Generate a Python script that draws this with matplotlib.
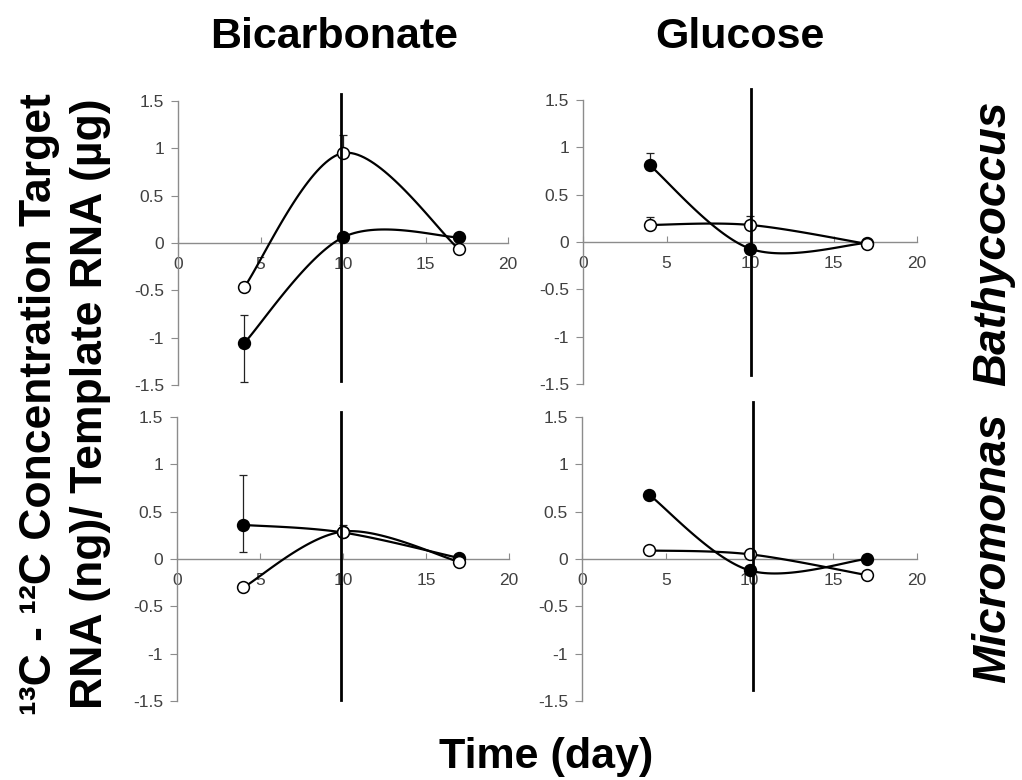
import numpy as np
import matplotlib
matplotlib.use('Agg')
from matplotlib import pyplot as plt

plt.rcParams['font.family'] = ['Liberation Sans', 'DejaVu Sans']

days = [4, 10, 17]
xticks = [0, 5, 10, 15, 20]
yticks = [-1.5, -1, -0.5, 0, 0.5, 1, 1.5]

# Bathycoccus, bicarbonate
bath_bic_filled = [-1.06, 0.06, 0.06]
bath_bic_filled_up = [0.30, 0, 0]
bath_bic_filled_lo = [0.41, 0, 0]
bath_bic_open = [-0.47, 0.95, -0.06]
bath_bic_open_up = [0, 0.19, 0]

# Bathycoccus, glucose
bath_glu_filled = [0.81, -0.07, -0.01]
bath_glu_filled_up = [0.13, 0, 0]
bath_glu_open = [0.18, 0.18, -0.02]
bath_glu_open_up = [0.08, 0.09, 0]

# Micromonas, bicarbonate
micro_bic_filled = [0.36, 0.28, 0.01]
micro_bic_filled_up = [0.53, 0, 0]
micro_bic_filled_lo = [0.29, 0, 0]
micro_bic_open = [-0.30, 0.29, -0.03]
micro_bic_open_up = [0, 0.07, 0]

# Micromonas, glucose
micro_glu_filled = [0.68, -0.12, 0.0]
micro_glu_open = [0.09, 0.05, -0.17]

# hand drawn vertical marker on each panel: day, bottom, top
markers = [(9.88, -1.46, 1.57), (10.06, -1.41, 1.62),
           (9.85, -1.49, 1.55), (10.2, -1.38, 1.66)]


def smooth(x, y, n=40):
    # excel style smoothed line (bezier through the points)
    p = np.column_stack([x, y]).astype(float)
    out = [p[0]]
    t = np.linspace(0, 1, n)[1:, None]
    for i in range(len(p) - 1):
        p0 = p[i - 1] if i > 0 else p[i]
        p3 = p[i + 2] if i + 2 < len(p) else p[i + 1]
        c1 = p[i] + (p[i + 1] - p0) / 6
        c2 = p[i + 1] - (p3 - p[i]) / 6
        seg = (1 - t)**3 * p[i] + 3 * (1 - t)**2 * t * c1 + 3 * (1 - t) * t**2 * c2 + t**3 * p[i + 1]
        out.extend(seg)
    out = np.array(out)
    return out[:, 0], out[:, 1]


def errs(ax, y, up, lo=None):
    lo = lo if lo is not None else [0] * len(y)
    for d, v, u, l in zip(days, y, up, lo):
        if u or l:
            ax.errorbar([d], [v], yerr=[[l], [u]], fmt='none', ecolor='#222222',
                        elinewidth=0.9, capsize=3, capthick=0.9, zorder=2)


def series(ax, y, face):
    xs, ys = smooth(days, y)
    ax.plot(xs, ys, color='black', lw=1.6, zorder=3)
    ax.plot(days, y, 'o', ms=8.5, mfc=face, mec='black', mew=1.1, zorder=4)


def panel(rect, filled, opened, mark):
    ax = fig.add_axes(rect)
    ax.set_xlim(0, 20)
    ax.set_ylim(-1.5, 1.5)
    for s in ['top', 'right']:
        ax.spines[s].set_visible(False)
    ax.spines['bottom'].set_position(('data', 0))
    for s in ['left', 'bottom']:
        ax.spines[s].set_color('#8c8c8c')
        ax.spines[s].set_linewidth(1)
    ax.set_xticks(xticks)
    ax.set_xticklabels([str(v) for v in xticks])
    ax.set_yticks(yticks)
    ax.set_yticklabels([f'{v:g}' for v in yticks])
    ax.tick_params(axis='x', direction='in', length=4, color='#8c8c8c', pad=10,
                   labelsize=12.5, labelcolor='#404040')
    ax.tick_params(axis='y', direction='out', length=5, color='#8c8c8c', pad=5,
                   labelsize=12.5, labelcolor='#404040')
    ax.patch.set_visible(False)
    series(ax, filled, 'black')
    series(ax, opened, 'white')
    d, lo, hi = mark
    ax.plot([d, d], [lo, hi], color='black', lw=2, zorder=6, clip_on=False)
    return ax


fig = plt.figure(figsize=(10.22, 7.8), dpi=100)
W, H = 1022, 780


def rect(l, r, t, b):
    return [l / W, 1 - b / H, (r - l) / W, (b - t) / H]


a1 = panel(rect(178, 508, 101, 385), bath_bic_filled, bath_bic_open, markers[0])
errs(a1, bath_bic_filled, bath_bic_filled_up, bath_bic_filled_lo)
errs(a1, bath_bic_open, bath_bic_open_up)

a2 = panel(rect(583, 917, 100, 384), bath_glu_filled, bath_glu_open, markers[1])
errs(a2, bath_glu_filled, bath_glu_filled_up)
errs(a2, bath_glu_open, bath_glu_open_up)

a3 = panel(rect(177, 509, 417, 701), micro_bic_filled, micro_bic_open, markers[2])
errs(a3, micro_bic_filled, micro_bic_filled_up, micro_bic_filled_lo)
errs(a3, micro_bic_open, micro_bic_open_up)

a4 = panel(rect(582, 917, 417, 701), micro_glu_filled, micro_glu_open, markers[3])

fig.text(334 / W, 1 - 48 / H, 'Bicarbonate', ha='center', va='baseline',
         fontsize=31, fontweight='bold')
fig.text(740 / W, 1 - 48 / H, 'Glucose', ha='center', va='baseline',
         fontsize=31, fontweight='bold')
fig.text(546 / W, 1 - 768 / H, 'Time (day)', ha='center', va='baseline',
         fontsize=31, fontweight='bold')

fig.text(51 / W, 1 - 404 / H, '¹³C - ¹²C Concentration Target', rotation=90,
         rotation_mode='anchor', ha='center', va='baseline', fontsize=32, fontweight='bold')
fig.text(102 / W, 1 - 404 / H, 'RNA (ng)/ Template RNA (µg)', rotation=90,
         rotation_mode='anchor', ha='center', va='baseline', fontsize=32, fontweight='bold')

fig.text(1005 / W, 1 - 243 / H, 'Bathycoccus', rotation=90, rotation_mode='anchor',
         ha='center', va='baseline', fontsize=33, fontweight='bold', style='italic')
fig.text(1005 / W, 1 - 548 / H, 'Micromonas', rotation=90, rotation_mode='anchor',
         ha='center', va='baseline', fontsize=33, fontweight='bold', style='italic')

fig.savefig('out.png', dpi=100)
